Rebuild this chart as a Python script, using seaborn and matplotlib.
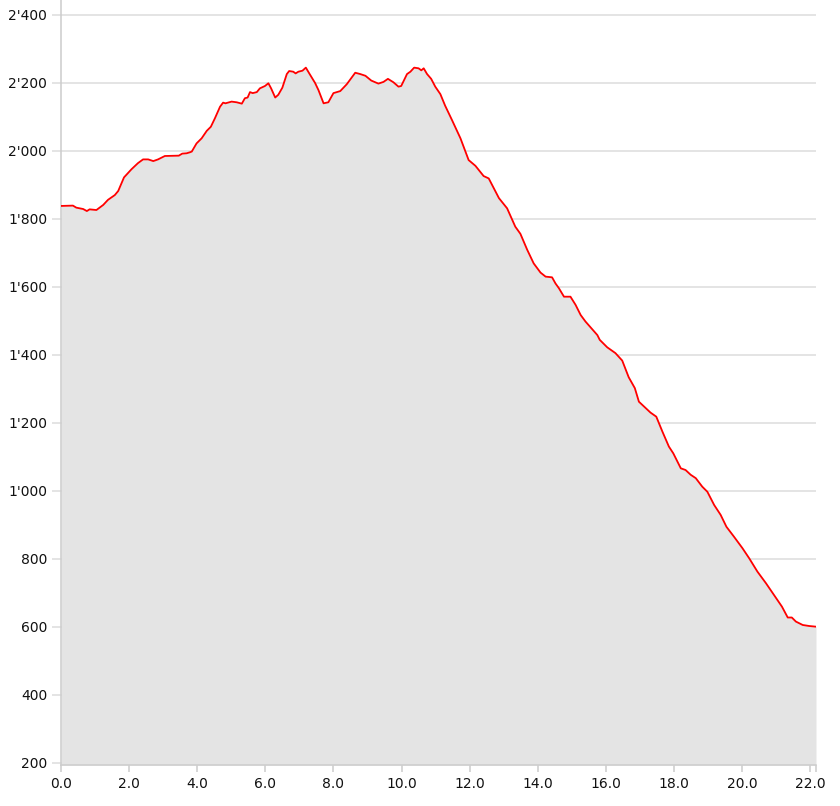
import matplotlib
matplotlib.use("Agg")
import matplotlib.pyplot as plt
import matplotlib.ticker as mticker
import pandas as pd
import seaborn as sns

# Elevation profile (distance in km, elevation in m)
distance_km = [
    0.00, 0.35, 0.45, 0.65, 0.76, 0.84, 1.04, 1.24, 1.38, 1.58, 1.68, 1.85,
    2.07, 2.26, 2.41, 2.56, 2.71, 2.85, 3.05, 3.46, 3.56, 3.69, 3.79, 3.84,
    3.98, 4.13, 4.28, 4.40, 4.52, 4.67, 4.76, 4.83, 5.01, 5.16, 5.31, 5.40,
    5.48, 5.55, 5.63, 5.75, 5.84, 5.99, 6.09, 6.17, 6.29, 6.38, 6.50, 6.63,
    6.70, 6.82, 6.89, 6.97, 7.09, 7.19, 7.29, 7.46, 7.56, 7.71, 7.85, 8.00,
    8.20, 8.39, 8.64, 8.79, 8.94, 9.11, 9.32, 9.47, 9.60, 9.76, 9.91, 9.99,
    10.16, 10.26, 10.37, 10.50, 10.58, 10.65, 10.75, 10.87, 10.99, 11.14,
    11.28, 11.48, 11.73, 11.97, 12.17, 12.41, 12.56, 12.86, 13.10, 13.34,
    13.49, 13.69, 13.88, 14.08, 14.23, 14.42, 14.52, 14.62, 14.77, 14.96,
    15.11, 15.26, 15.40, 15.55, 15.75, 15.82, 16.04, 16.28, 16.48, 16.67,
    16.85, 16.97, 17.17, 17.31, 17.48, 17.66, 17.85, 17.98, 18.20, 18.34,
    18.49, 18.64, 18.83, 18.98, 19.18, 19.37, 19.54, 19.76, 20.01, 20.21,
    20.45, 20.70, 20.94, 21.17, 21.34, 21.46, 21.58, 21.78, 21.97, 22.17,
]
elevation_m = [
    1838, 1839, 1833, 1829, 1823, 1828, 1826, 1841, 1856, 1870, 1882, 1922,
    1946, 1964, 1975, 1975, 1970, 1975, 1985, 1986, 1992, 1993, 1996, 1998,
    2022, 2037, 2059, 2071, 2096, 2130, 2142, 2140, 2145, 2143, 2139, 2155,
    2157, 2173, 2170, 2173, 2184, 2191, 2199, 2184, 2157, 2165, 2186, 2226,
    2235, 2233, 2228, 2233, 2236, 2245, 2228, 2200, 2179, 2140, 2143, 2170,
    2176, 2196, 2230, 2226, 2221, 2207, 2198, 2203, 2212, 2202, 2189, 2191,
    2226, 2233, 2245, 2243, 2237, 2243, 2226, 2212, 2189, 2167,
    2133, 2091, 2037, 1973, 1956, 1926, 1919, 1861, 1831, 1777,
    1756, 1709, 1669, 1642, 1630, 1628, 1610, 1596, 1571, 1571,
    1547, 1517, 1498, 1481, 1458, 1444, 1422, 1405, 1383, 1334,
    1302, 1262, 1243, 1230, 1218, 1174, 1130, 1110, 1066, 1061,
    1047, 1037, 1012, 997, 958, 929, 894, 865, 831, 801,
    762, 728, 693, 659, 627, 627, 615, 605, 602, 600,
]
x_ticks = [0, 2, 4, 6, 8, 10, 12, 14, 16, 18, 20, 22]
y_ticks = [200, 400, 600, 800, 1000, 1200, 1400, 1600, 1800, 2000, 2200, 2400]

df = pd.DataFrame({"km": distance_km, "elev": elevation_m})

sns.set_theme(style="white")
plt.rcParams["font.family"] = ["DejaVu Sans"]

fig = plt.figure(figsize=(8.4, 8.06), dpi=100)
ax = fig.add_axes([61 / 840, 41 / 806, 755 / 840, 765 / 806])

y_min, y_max = 193, 2444
ax.fill_between(df["km"], df["elev"], y_min, color="#e4e4e4", lw=0, zorder=1)
sns.lineplot(data=df, x="km", y="elev", color="#ff0000", lw=1.3, ax=ax, zorder=3)

ax.set_xlim(0, df["km"].max())
ax.set_ylim(y_min, y_max)
ax.set_xticks(x_ticks)
ax.set_xticks([df["km"].max()], minor=True)
ax.set_yticks(y_ticks)
ax.xaxis.set_major_formatter(mticker.FormatStrFormatter("%.1f"))
ax.yaxis.set_major_formatter(
    mticker.FuncFormatter(lambda v, p: f"{v:,.0f}".replace(",", "'")))

ax.grid(axis="y", color="#dcdcdc", lw=1.1, zorder=0)
ax.set_axisbelow(True)
ax.set_xlabel("")
ax.set_ylabel("")

for side in ["top", "right"]:
    ax.spines[side].set_visible(False)
for side in ["left", "bottom"]:
    ax.spines[side].set_color("#cccccc")
    ax.spines[side].set_linewidth(1.1)

ax.tick_params(axis="x", which="both", bottom=True, length=5, width=1.1,
               color="#cccccc", pad=4, labelsize=10, labelcolor="#111111")
ax.tick_params(axis="y", left=True, length=6.5, width=1.1,
               color="#dcdcdc", pad=3.5, labelsize=10, labelcolor="#111111")

fig.savefig("out.png", dpi=100)
